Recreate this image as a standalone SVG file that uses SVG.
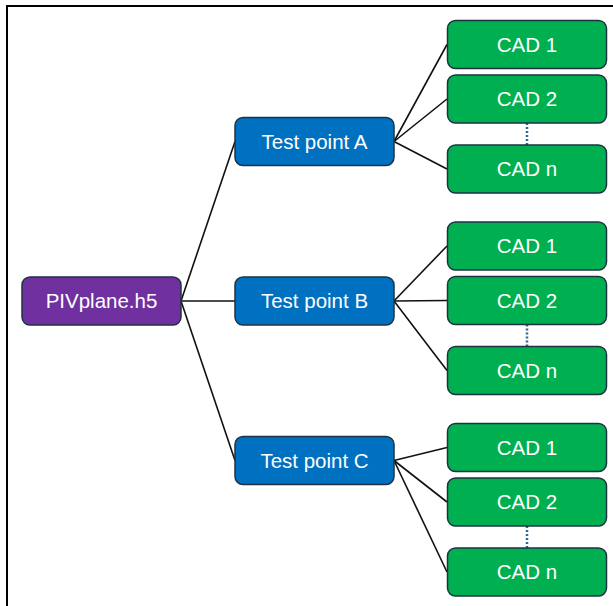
<svg xmlns="http://www.w3.org/2000/svg" width="613" height="606" viewBox="0 0 613 606">
<style>
.box{stroke:#1d3344;stroke-width:1.5}
.root{fill:#7030A0}
.tp{fill:#0070C0}
.cad{fill:#00B050}
.lbl{font-family:"Liberation Sans",Arial,sans-serif;font-size:20.5px;fill:#fff;text-anchor:middle}
.con{stroke:#111;stroke-width:1.6;fill:none}
.dot{stroke:#2d6a94;stroke-width:2.5;stroke-dasharray:2 2;fill:none}
</style>
<rect x="0" y="0" width="613" height="606" fill="#fff"/>
<rect x="7" y="6" width="640" height="640" fill="none" stroke="#000" stroke-width="2"/>
<g id="connectors">
<line class="con" x1="181" y1="301" x2="235" y2="141.5"/>
<line class="con" x1="181" y1="301" x2="235" y2="301"/>
<line class="con" x1="181" y1="301" x2="235" y2="460.5"/>
<line class="con" x1="394" y1="141.5" x2="447" y2="44.5"/>
<line class="con" x1="394" y1="141.5" x2="447" y2="99"/>
<line class="con" x1="394" y1="141.5" x2="447" y2="169"/>
<line class="con" x1="394" y1="301" x2="447" y2="246"/>
<line class="con" x1="394" y1="301" x2="447" y2="300.5"/>
<line class="con" x1="394" y1="301" x2="447" y2="370.5"/>
<line class="con" x1="394" y1="460.5" x2="447" y2="447.5"/>
<line class="con" x1="394" y1="460.5" x2="447" y2="502"/>
<line class="con" x1="394" y1="460.5" x2="447" y2="572"/>
<line class="dot" x1="527" y1="123" x2="527" y2="145"/>
<line class="dot" x1="527" y1="324.5" x2="527" y2="346.5"/>
<line class="dot" x1="527" y1="526" x2="527" y2="548"/>
</g>
<g id="root"><rect class="box root" x="22" y="277" width="159" height="48" rx="8"/><text class="lbl" x="101.5" y="308">PIVplane.h5</text></g>
<g id="tpA"><rect class="box tp" x="235" y="117.5" width="159" height="48" rx="8"/><text class="lbl" x="314.5" y="148.5">Test point A</text></g>
<g id="tpB"><rect class="box tp" x="235" y="277" width="159" height="48" rx="8"/><text class="lbl" x="314.5" y="308">Test point B</text></g>
<g id="tpC"><rect class="box tp" x="235" y="436.5" width="159" height="48" rx="8"/><text class="lbl" x="314.5" y="467.5">Test point C</text></g>
<g id="cadA1"><rect class="box cad" x="447.5" y="20.5" width="159" height="48" rx="8"/><text class="lbl" x="527" y="51.5">CAD 1</text></g>
<g id="cadA2"><rect class="box cad" x="447.5" y="75" width="159" height="48" rx="8"/><text class="lbl" x="527" y="106">CAD 2</text></g>
<g id="cadAn"><rect class="box cad" x="447.5" y="145" width="159" height="48" rx="8"/><text class="lbl" x="527" y="176">CAD n</text></g>
<g id="cadB1"><rect class="box cad" x="447.5" y="222" width="159" height="48" rx="8"/><text class="lbl" x="527" y="253">CAD 1</text></g>
<g id="cadB2"><rect class="box cad" x="447.5" y="276.5" width="159" height="48" rx="8"/><text class="lbl" x="527" y="307.5">CAD 2</text></g>
<g id="cadBn"><rect class="box cad" x="447.5" y="346.5" width="159" height="48" rx="8"/><text class="lbl" x="527" y="377.5">CAD n</text></g>
<g id="cadC1"><rect class="box cad" x="447.5" y="423.5" width="159" height="48" rx="8"/><text class="lbl" x="527" y="454.5">CAD 1</text></g>
<g id="cadC2"><rect class="box cad" x="447.5" y="478" width="159" height="48" rx="8"/><text class="lbl" x="527" y="509">CAD 2</text></g>
<g id="cadCn"><rect class="box cad" x="447.5" y="548" width="159" height="48" rx="8"/><text class="lbl" x="527" y="579">CAD n</text></g>
</svg>
